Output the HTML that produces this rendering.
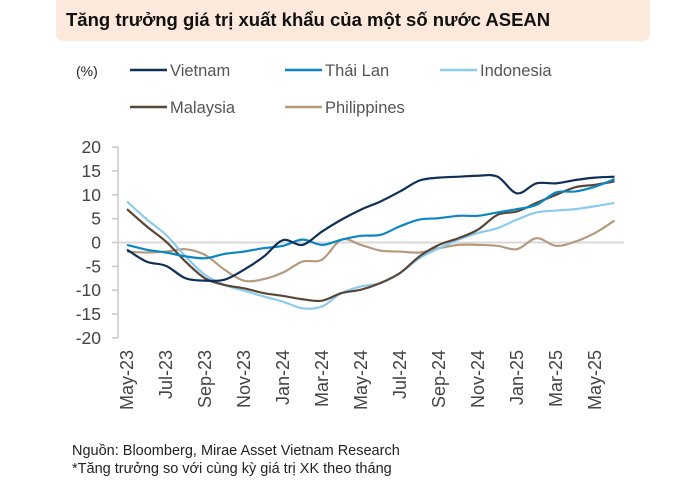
<!DOCTYPE html>
<html><head><meta charset="utf-8"><style>
body{margin:0;background:#fff;width:677px;height:481px;overflow:hidden;font-family:"Liberation Sans",sans-serif}
</style></head><body>
<svg width="677" height="481" xmlns="http://www.w3.org/2000/svg">
<rect x="56" y="-6" width="594" height="47" rx="7" fill="#fde9dc"/>
<text x="66" y="26" font-size="18.5" font-weight="bold" fill="#111">Tăng trưởng giá trị xuất khẩu của một số nước ASEAN</text>
<text x="76" y="76" font-size="14" fill="#222">(%)</text>
<g id="legend" font-size="16.5" fill="#555"></g>
<g id="axes"></g>
<g id="lines"></g>
<text x="72" y="455" font-size="14.5" fill="#222">Nguồn: Bloomberg, Mirae Asset Vietnam Research</text>
<text x="72" y="473" font-size="14.5" fill="#222">*Tăng trưởng so với cùng kỳ giá trị XK theo tháng</text>
</svg>
<script>
const months=["May-23","Jun-23","Jul-23","Aug-23","Sep-23","Oct-23","Nov-23","Dec-23","Jan-24","Feb-24","Mar-24","Apr-24","May-24","Jun-24","Jul-24","Aug-24","Sep-24","Oct-24","Nov-24","Dec-24","Jan-25","Feb-25","Mar-25","Apr-25","May-25","Jun-25"];
const seriesNames=["Vietnam","Thái Lan","Indonesia","Malaysia","Philippines"];
const vietnam=[-1.5,-4,-4.9,-7.5,-8,-7.8,-5.7,-3,0.5,-0.5,2.3,4.8,6.9,8.6,10.7,13,13.6,13.8,14,13.8,10.3,12.4,12.4,13.1,13.6,13.8];
const thailan=[-0.5,-1.5,-2.1,-2.9,-3.3,-2.4,-1.9,-1.2,-0.7,0.6,-0.5,0.6,1.4,1.6,3.4,4.8,5.1,5.6,5.6,6.3,7,7.9,10.5,10.7,11.7,13.3];
const indonesia=[8.6,4.9,1.6,-2.9,-6.8,-8.9,-10.1,-11.3,-12.4,-13.8,-13.4,-10.6,-9.2,-8.5,-6.4,-3.3,-1.2,0.6,2,3,4.8,6.3,6.7,7,7.6,8.3];
const malaysia=[7,3.4,0.2,-4,-7.5,-8.9,-9.6,-10.6,-11.2,-11.9,-12.2,-10.6,-9.9,-8.5,-6.4,-2.9,-0.5,0.9,2.7,5.8,6.5,8.3,10,11.6,12.1,12.8];
const philippines=[-1.9,-2.1,-1.9,-1.4,-2.6,-5.7,-8,-7.7,-6.3,-4,-3.6,0.6,-0.5,-1.7,-1.9,-2.1,-1.2,-0.5,-0.5,-0.7,-1.4,0.9,-0.7,0.2,2,4.6];
const yTicks=[20,15,10,5,0,-5,-10,-15,-20];
const xTickLabels=["May-23","Jul-23","Sep-23","Nov-23","Jan-24","Mar-24","May-24","Jul-24","Sep-24","Nov-24","Jan-25","Mar-25","May-25"];
const colors=["#0e2f56","#0a87c2","#8ccbee","#5a4636","#b69a7d"];
const NS="http://www.w3.org/2000/svg";
const X=i=>127+19.5*i;
const Y=v=>242.5-v*4.77;
function mk(t,a,p){const e=document.createElementNS(NS,t);for(const k in a)e.setAttribute(k,a[k]);p.appendChild(e);return e;}
const axes=document.getElementById('axes');
let ax=mk('line',{x1:118,x2:118,y1:Y(20),y2:Y(-20),stroke:'#c8c8c8','stroke-width':1.5},axes);


let zl=mk('line',{x1:118,x2:624,y1:Y(0),y2:Y(0),stroke:'#d9d9d9','stroke-width':2},axes);


yTicks.forEach(v=>{
 let tk=mk('line',{x1:112,x2:118,y1:Y(v),y2:Y(v),stroke:'#c8c8c8','stroke-width':1.5},axes);
 
 
 let t=mk('text',{x:101,y:Y(v)+6,'text-anchor':'end','font-size':17.5,fill:'#444'},axes);
 t.textContent=v;
 
 
});
xTickLabels.forEach(l=>{
 const i=months.indexOf(l);
 let t=mk('text',{transform:`translate(${X(i)+6},350) rotate(-90)`,'text-anchor':'end','font-size':18,fill:'#444'},axes);
 t.textContent=l;
 
 
});
function path(vals){
 const p=vals.map((v,i)=>[X(i),Y(v)]);
 let d=`M${p[0][0]},${p[0][1]}`;
 for(let i=0;i<p.length-1;i++){
  const p0=p[Math.max(0,i-1)],p1=p[i],p2=p[i+1],p3=p[Math.min(p.length-1,i+2)];
  const c1=[p1[0]+(p2[0]-p0[0])/6,p1[1]+(p2[1]-p0[1])/6];
  const c2=[p2[0]-(p3[0]-p1[0])/6,p2[1]-(p3[1]-p1[1])/6];
  d+=`C${c1[0]},${c1[1]} ${c2[0]},${c2[1]} ${p2[0]},${p2[1]}`;
 }
 return d;
}
const data=[vietnam,thailan,indonesia,malaysia,philippines];
const lines=document.getElementById('lines');
const order=[4,2,3,1,0];
order.forEach(k=>{
 let pl=mk('path',{d:path(data[k]),fill:'none',stroke:colors[k],'stroke-width':2.2},lines);
 
 
});
const lg=document.getElementById('legend');
const lpos=[[130,70],[285,70],[440,70],[130,107],[285,107]];
seriesNames.forEach((n,k)=>{
 const [x,y]=lpos[k];
 let g=mk('g',{},lg);
 
 
 mk('line',{x1:x,x2:x+37,y1:y,y2:y,stroke:colors[k],'stroke-width':2.5},g);
 let t=mk('text',{x:x+40,y:y+6},g);
 t.textContent=n;
});
</script>
</body></html>
